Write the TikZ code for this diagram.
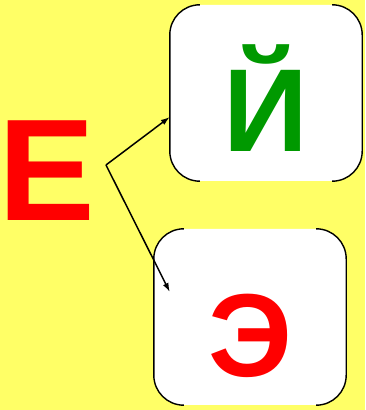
\documentclass[tikz,border=0pt]{standalone}
\usepackage{fontspec}
\setmainfont{Liberation Sans}
\usetikzlibrary{arrows.meta, positioning, calc}
\definecolor{bgyellow}{HTML}{FFFF66}
\definecolor{letterred}{HTML}{FF0000}
\definecolor{lettergreen}{HTML}{009900}

\begin{document}
\begin{tikzpicture}[
    x=1pt, y=1pt,
    letter_box/.style={rectangle, rounded corners=30pt, fill=white, minimum width=192pt, minimum height=176pt, inner sep=0pt},
    box_edge/.style={line width=1.4pt, draw=black},
    big_letter/.style={inner sep=0pt, font=\fontsize{#1}{#1}\selectfont\bfseries},
    arrow/.style={-{Latex[length=9pt,width=6pt]}, line width=1.5pt, draw=black}
]

\fill[bgyellow] (0,0) rectangle (365,410);
\useasboundingbox (0,0) rectangle (365,410);

% Boxes
\node[letter_box] (yi) at (266,317) {};
\node[letter_box] (ee) at (250,93) {};
\foreach \b in {yi,ee} {
  \draw[box_edge] ($(\b.north west)+(30pt,0)$) arc[start angle=90, end angle=180, radius=30pt] -- ($(\b.south west)+(0,30pt)$) arc[start angle=180, end angle=270, radius=30pt];
  \draw[box_edge] ($(\b.north east)+(-30pt,0)$) arc[start angle=90, end angle=0, radius=30pt] -- ($(\b.south east)+(0,30pt)$) arc[start angle=0, end angle=-90, radius=30pt];
}

% Letters
\node[big_letter=145, text=letterred, anchor=base] (e) at (47,189) {Е};
\node[big_letter=118, text=lettergreen, above=30pt of yi.south, anchor=base] (yi_letter) {Й};
\node[big_letter=118, text=letterred, above=29pt of ee.south, anchor=base] (ee_letter) {Э};

% Connections
\coordinate (fork) at (106,245);
\coordinate (ee_tip) at ($(ee.west)+(16pt,25pt)$);
\draw[arrow] (fork) -- (yi.194.6);
\draw[arrow] (fork) -- (ee_tip);

\end{tikzpicture}
\end{document}
